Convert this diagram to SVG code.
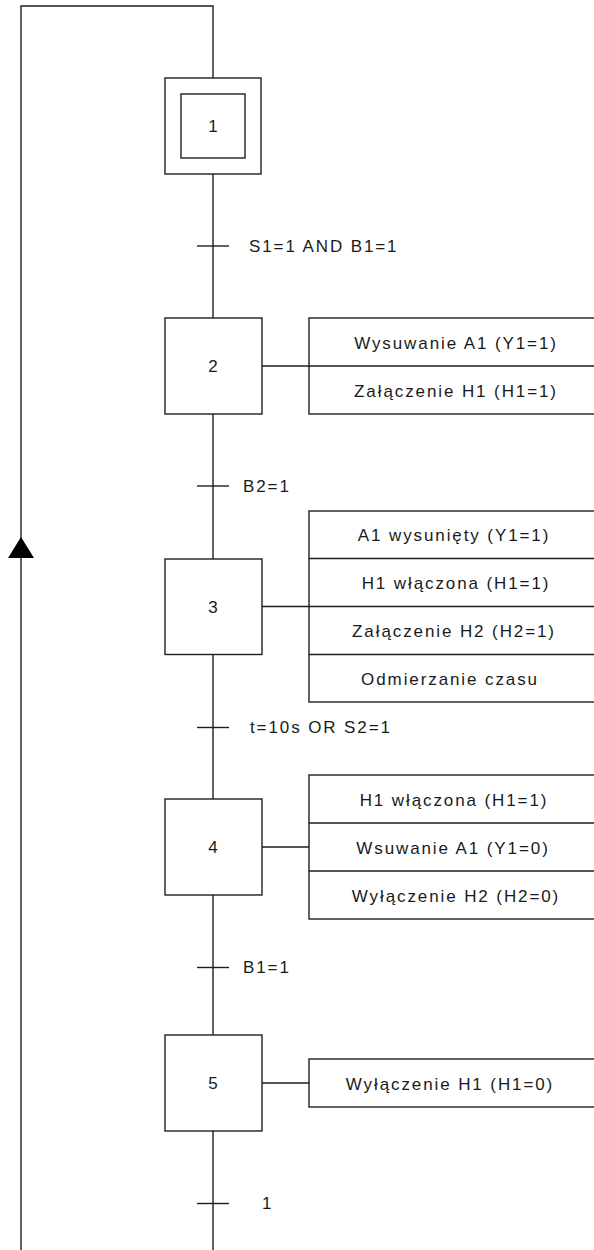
<svg xmlns="http://www.w3.org/2000/svg" width="594" height="1250" viewBox="0 0 594 1250">
<defs>
<style>
.ln{stroke:#1e1e1e;stroke-width:1.4;fill:none}
.bx{stroke:#1e1e1e;stroke-width:1.4;fill:#ffffff}
.t{font-family:"Liberation Sans",Arial,sans-serif;font-size:17px;fill:#1a1a1a;letter-spacing:1.9px}
.m{text-anchor:middle}
</style>
</defs>
<rect x="0" y="0" width="594" height="1250" fill="#ffffff"/>
<g id="connectors">
<polyline class="ln" points="213,78 213,6 21,6 21,1250"/>
<polygon points="21,537 8,558 34,558" fill="#000000"/>
<line class="ln" x1="213" y1="174" x2="213" y2="318"/>
<line class="ln" x1="213" y1="414" x2="213" y2="559"/>
<line class="ln" x1="213" y1="654" x2="213" y2="799"/>
<line class="ln" x1="213" y1="895" x2="213" y2="1035"/>
<line class="ln" x1="213" y1="1131" x2="213" y2="1250"/>
<line class="ln" x1="197" y1="246" x2="229" y2="246"/>
<line class="ln" x1="197" y1="486" x2="229" y2="486"/>
<line class="ln" x1="197" y1="727.5" x2="229" y2="727.5"/>
<line class="ln" x1="197" y1="967.5" x2="229" y2="967.5"/>
<line class="ln" x1="197" y1="1203.5" x2="229" y2="1203.5"/>
<line class="ln" x1="262" y1="366" x2="309" y2="366"/>
<line class="ln" x1="262" y1="606.5" x2="309" y2="606.5"/>
<line class="ln" x1="262" y1="847" x2="309" y2="847"/>
<line class="ln" x1="262" y1="1083" x2="309" y2="1083"/>
</g>
<g id="transitions">
<text class="t" x="249" y="252">S1=1 AND B1=1</text>
<text class="t" x="243" y="491.5">B2=1</text>
<text class="t" x="250" y="733">t=10s OR S2=1</text>
<text class="t" x="243" y="973">B1=1</text>
<text class="t" x="262" y="1209">1</text>
</g>
<g id="step1">
<rect class="bx" x="165" y="78" width="96" height="96"/>
<rect class="bx" x="181" y="94" width="64" height="64"/>
<text class="t m" x="214" y="132">1</text>
</g>
<g id="step2">
<rect class="bx" x="165" y="318" width="97" height="96"/>
<text class="t m" x="214" y="372">2</text>
</g>
<g id="actions2">
<rect class="bx" x="309" y="318" width="292" height="96"/>
<line class="ln" x1="309" y1="366" x2="601" y2="366"/>
<text class="t m" x="456" y="349">Wysuwanie A1 (Y1=1)</text>
<text class="t m" x="456" y="396.5">Załączenie H1 (H1=1)</text>
</g>
<g id="step3">
<rect class="bx" x="165" y="559" width="97" height="95.5"/>
<text class="t m" x="214" y="612.5">3</text>
</g>
<g id="actions3">
<rect class="bx" x="309" y="511" width="292" height="191"/>
<line class="ln" x1="309" y1="558.5" x2="601" y2="558.5"/>
<line class="ln" x1="309" y1="606.5" x2="601" y2="606.5"/>
<line class="ln" x1="309" y1="654.5" x2="601" y2="654.5"/>
<text class="t m" x="454" y="541">A1 wysunięty  (Y1=1)</text>
<text class="t m" x="456" y="589">H1 włączona (H1=1)</text>
<text class="t m" x="454" y="637">Załączenie H2 (H2=1)</text>
<text class="t m" x="450" y="684.5">Odmierzanie czasu</text>
</g>
<g id="step4">
<rect class="bx" x="165" y="799" width="97" height="96"/>
<text class="t m" x="214" y="853">4</text>
</g>
<g id="actions4">
<rect class="bx" x="309" y="775" width="292" height="144"/>
<line class="ln" x1="309" y1="823" x2="601" y2="823"/>
<line class="ln" x1="309" y1="871" x2="601" y2="871"/>
<text class="t m" x="454" y="805.5">H1 włączona (H1=1)</text>
<text class="t m" x="453" y="853.5">Wsuwanie A1 (Y1=0)</text>
<text class="t m" x="456" y="901.5">Wyłączenie H2 (H2=0)</text>
</g>
<g id="step5">
<rect class="bx" x="165" y="1035" width="97" height="96"/>
<text class="t m" x="214" y="1089">5</text>
</g>
<g id="actions5">
<rect class="bx" x="309" y="1059" width="292" height="48"/>
<text class="t m" x="450" y="1089.5">Wyłączenie H1 (H1=0)</text>
</g>
</svg>
